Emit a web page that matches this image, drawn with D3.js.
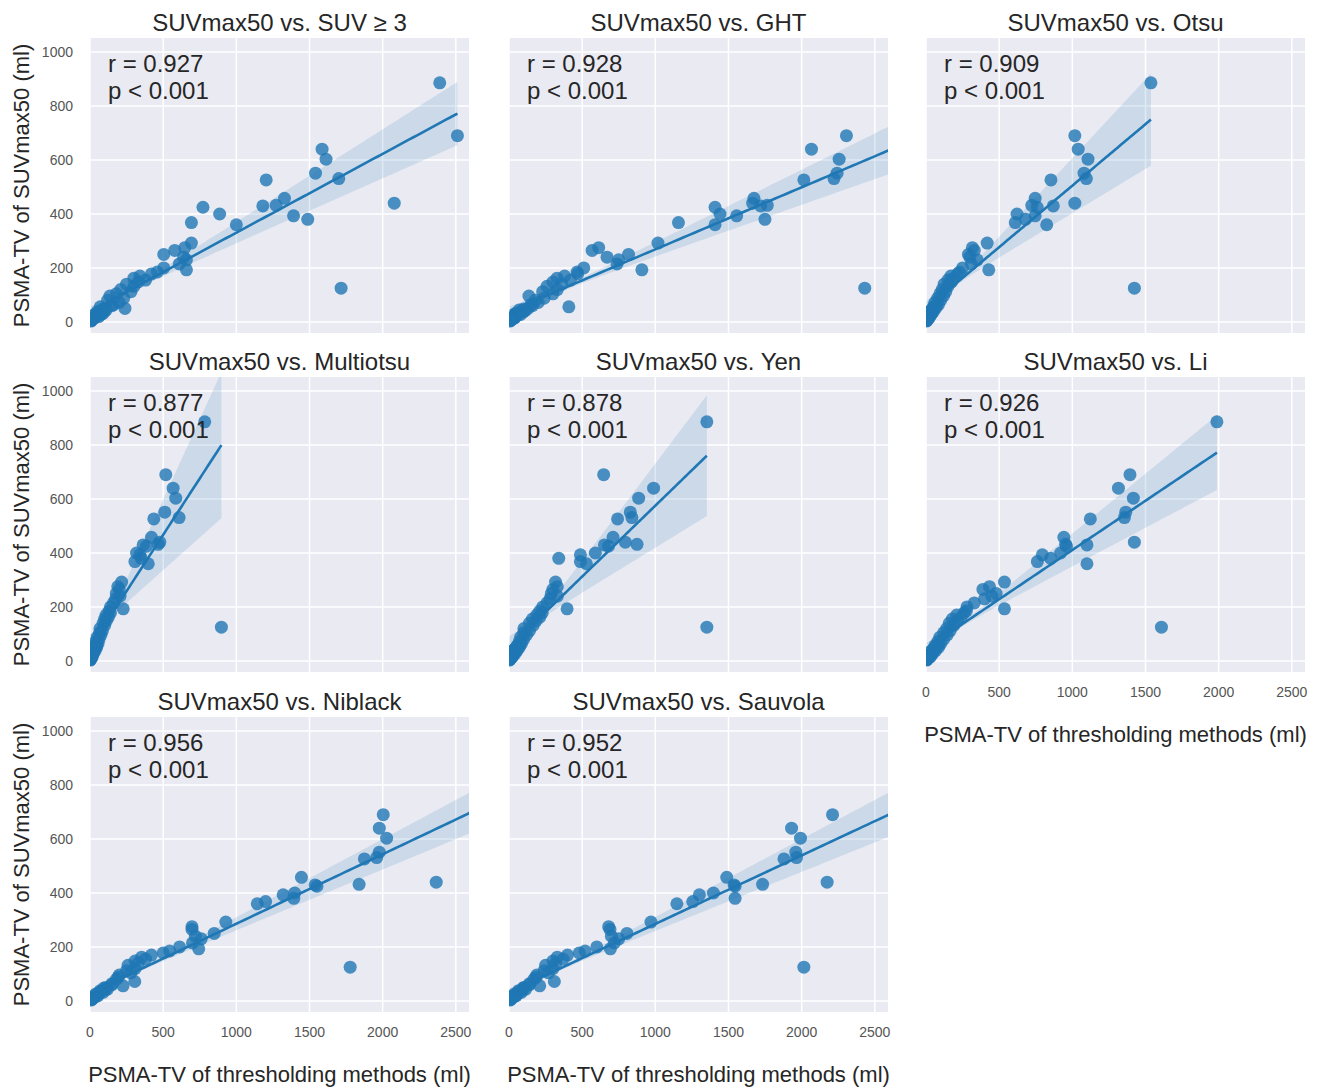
<!DOCTYPE html>
<html>
<head>
<meta charset="utf-8">
<script src="https://cdnjs.cloudflare.com/ajax/libs/d3/7.8.5/d3.min.js"></script>
<style>
  body { margin: 0; background: #fff; }
  svg { display: block; font-family: "Liberation Sans", Arial, sans-serif; }
</style>
</head>
<body>
<svg id="chart" width="1323" height="1089"></svg>
<script>
// panel names and correlation text
const methods = ["SUV \u2265 3", "GHT", "Otsu", "Multiotsu", "Yen", "Li", "Niblack", "Sauvola"];
const rValues = ["0.927", "0.928", "0.909", "0.877", "0.878", "0.926", "0.956", "0.952"];

// PSMA-TV of SUVmax50 (ml), shared y for every panel
const suvmax50 = [886, 690, 640, 603, 551, 531, 526, 440, 458, 432, 430, 425, 400, 393, 380, 368, 360, 125,
  292, 275, 265, 250, 240, 230, 215, 200, 193, 185,
  178, 170, 162, 155, 148, 140, 132, 120, 112, 104, 96, 88, 80, 72, 64, 56, 50, 44, 38, 32, 26, 20, 14, 9, 5,
  60, 48, 42, 35, 28, 22, 16, 12, 7, 3];

// PSMA-TV of each thresholding method (ml), same patient order
const xSUV3 = [2390, 2511, 1586, 1613, 1541, 1700, 1204, 2079, 1329, 1272, 1181, 772, 886, 1391, 1488, 693, 1000, 1716,
  693, 648, 579, 504, 640, 659, 610, 504, 659, 460,
  420, 341, 300, 380, 330, 250, 300, 210, 280, 180, 136, 230, 120, 200, 160, 70, 239, 110, 50, 90, 30, 60, 25, 15, 8,
  150, 90, 100, 60, 75, 40, 35, 20, 12, 5];
const xGHT = [3500, 2306, 2067, 2256, 2242, 2221, 2015, 1665, 1674, 1765, 1720, 1408, 1442, 1556, 1749, 1158, 1408, 2431,
  1018, 613, 568, 817, 670, 750, 738, 511, 908, 465,
  470, 380, 329, 420, 300, 360, 260, 330, 230, 300, 136, 240, 180, 200, 150, 409, 130, 70, 100, 45, 60, 30, 35, 15, 8,
  160, 100, 110, 70, 80, 45, 40, 25, 14, 6];
const xOtsu = [1537, 1017, 1040, 1107, 1080, 1096, 854, 1017, 746, 723, 870, 760, 622, 746, 680, 610, 825, 1424,
  418, 317, 330, 290, 300, 350, 310, 250, 429, 230,
  215, 170, 190, 150, 175, 124, 150, 110, 135, 95, 120, 80, 100, 60, 85, 50, 65, 35, 50, 25, 35, 15, 20, 8, 5,
  70, 50, 40, 40, 30, 25, 18, 12, 8, 3];
const xMultiotsu = [784, 518, 568, 586, 511, 609, 436, 477, 420, 466, 363, 386, 318, 341, 350, 307, 398, 898,
  216, 190, 200, 180, 205, 175, 160, 140, 227, 130,
  140, 110, 125, 100, 112, 90, 100, 68, 85, 65, 75, 50, 62, 40, 55, 30, 45, 25, 35, 18, 22, 10, 14, 5, 3,
  45, 35, 30, 25, 20, 16, 12, 9, 5, 2];
const xYen = [1352, 647, 988, 886, 829, 840, 742, 795, 711, 875, 652, 680, 590, 488, 340, 488, 529, 1352,
  318, 330, 300, 290, 330, 280, 260, 230, 397, 210,
  227, 190, 210, 160, 185, 140, 165, 102, 140, 100, 120, 80, 100, 70, 85, 55, 70, 40, 55, 28, 40, 18, 22, 8, 5,
  75, 55, 50, 40, 32, 26, 18, 14, 8, 3];
const xLi = [1988, 1394, 1315, 1417, 1365, 1356, 1123, 1424, 942, 954, 1100, 960, 920, 795, 852, 761, 1100, 1609,
  536, 434, 389, 479, 450, 400, 330, 280, 536, 276,
  260, 210, 240, 180, 215, 160, 190, 141, 165, 120, 145, 95, 120, 80, 100, 60, 85, 50, 65, 35, 45, 20, 28, 10, 6,
  85, 65, 55, 45, 38, 30, 22, 16, 9, 4];
const xNiblack = [3100, 2004, 1977, 2027, 1977, 1959, 1875, 2366, 1445, 1839, 1539, 1551, 1399, 1320, 1393, 1200, 1143, 1778,
  928, 697, 697, 849, 720, 760, 700, 612, 743, 544,
  500, 420, 353, 380, 308, 330, 260, 308, 250, 280, 200, 194, 180, 306, 150, 226, 110, 120, 70, 90, 40, 55, 25, 18, 10,
  150, 95, 105, 75, 65, 45, 38, 25, 15, 6];
const xSauvola = [3100, 2211, 1931, 1992, 1960, 1965, 1879, 2174, 1488, 1733, 1538, 1545, 1397, 1301, 1545, 1256, 1147, 2015,
  970, 681, 690, 806, 700, 750, 720, 600, 693, 520,
  480, 400, 330, 370, 300, 320, 250, 300, 240, 270, 190, 185, 170, 310, 140, 210, 100, 115, 65, 85, 38, 50, 22, 16, 8,
  140, 100, 95, 70, 60, 48, 35, 22, 14, 5];

const methodX = [xSUV3, xGHT, xOtsu, xMultiotsu, xYen, xLi, xNiblack, xSauvola];

const xTicks = [0, 500, 1000, 1500, 2000, 2500];
const yTicks = [0, 200, 400, 600, 800, 1000];

const W = 379, H = 295;
const colLeft = [90, 509, 926];
const rowTop = [38, 377, 717];
const blue = "#1f77b4";

const svg = d3.select("#chart");

// least squares fit; band uses robust (sandwich) variance of the fitted mean
function fit(xs, ys) {
  const n = xs.length;
  const xm = d3.mean(xs), ym = d3.mean(ys);
  let sxx = 0, sxy = 0;
  xs.forEach((v, k) => { sxx += (v - xm) * (v - xm); sxy += (v - xm) * (ys[k] - ym); });
  const b = sxy / sxx, a = ym - b * xm;
  const res = xs.map((v, k) => ys[k] - (a + b * v));
  const se = x0 => Math.sqrt(d3.sum(xs, (v, k) => {
    const w = 1 / n + (x0 - xm) * (v - xm) / sxx;
    return res[k] * res[k] * w * w;
  }));
  return { a, b, se };
}

methods.forEach((m, i) => {
  const row = Math.floor(i / 3), col = i % 3;
  const g = svg.append("g").attr("transform", `translate(${colLeft[col]},${rowTop[row]})`);
  const x = d3.scaleLinear().domain([0, 2590]).range([0, W]);
  const y = d3.scaleLinear().domain([-41, 1052]).range([H, 0]);

  g.append("clipPath").attr("id", "clip" + i)
    .append("rect").attr("width", W).attr("height", H);

  g.append("rect").attr("width", W).attr("height", H).attr("fill", "#EAEAF2");

  g.selectAll(".gx").data(xTicks).enter().append("line")
    .attr("x1", d => x(d)).attr("x2", d => x(d)).attr("y1", 0).attr("y2", H)
    .attr("stroke", "#fff").attr("stroke-width", 1.5);
  g.selectAll(".gy").data(yTicks).enter().append("line")
    .attr("x1", 0).attr("x2", W).attr("y1", d => y(d)).attr("y2", d => y(d))
    .attr("stroke", "#fff").attr("stroke-width", 1.5);

  const xs = methodX[i];
  const f = fit(xs, suvmax50);
  const lo = d3.min(xs), hi = d3.max(xs);
  const grid = d3.range(0, 101).map(k => lo + (hi - lo) * k / 100);
  const band = grid.map(v => {
    const yh = f.a + f.b * v;
    const h = 1.96 * f.se(v);
    return { x: v, y: yh, lo: yh - h, hi: yh + h };
  });

  const inner = g.append("g").attr("clip-path", `url(#clip${i})`);

  inner.selectAll("circle").data(xs).enter().append("circle")
    .attr("cx", d => x(d)).attr("cy", (d, k) => y(suvmax50[k]))
    .attr("r", 6.5).attr("fill", blue).attr("fill-opacity", 0.8);

  inner.append("path").datum(band)
    .attr("fill", blue).attr("fill-opacity", 0.15)
    .attr("d", d3.area().x(d => x(d.x)).y0(d => y(d.lo)).y1(d => y(d.hi)));

  inner.append("path").datum(band)
    .attr("fill", "none").attr("stroke", blue).attr("stroke-width", 2.6)
    .attr("d", d3.line().x(d => x(d.x)).y(d => y(d.y)));

  g.append("text").attr("x", W / 2).attr("y", -7).attr("text-anchor", "middle")
    .attr("font-size", 24).attr("fill", "#262626").text("SUVmax50 vs. " + m);

  g.append("text").attr("x", 18).attr("y", 34).attr("font-size", 24).attr("fill", "#262626").text("r = " + rValues[i]);
  g.append("text").attr("x", 18).attr("y", 61).attr("font-size", 24).attr("fill", "#262626").text("p < 0.001");

  if (col === 0) {
    g.selectAll(".yl").data(yTicks).enter().append("text")
      .attr("x", -17).attr("y", d => y(d)).attr("dy", "0.35em").attr("text-anchor", "end")
      .attr("font-size", 14).attr("fill", "#555").text(d => d);
    g.append("text").attr("transform", `translate(${29 - colLeft[0]},${H / 2}) rotate(-90)`)
      .attr("text-anchor", "middle").attr("font-size", 22).attr("fill", "#262626")
      .text("PSMA-TV of SUVmax50 (ml)");
  }
  if (i >= 5) {
    g.selectAll(".xl").data(xTicks).enter().append("text")
      .attr("x", d => x(d)).attr("y", H + 25).attr("text-anchor", "middle")
      .attr("font-size", 14).attr("fill", "#555").text(d => d);
    g.append("text").attr("x", W / 2).attr("y", H + 70).attr("text-anchor", "middle")
      .attr("font-size", 22).attr("fill", "#262626").text("PSMA-TV of thresholding methods (ml)");
  }
});
</script>
</body>
</html>
